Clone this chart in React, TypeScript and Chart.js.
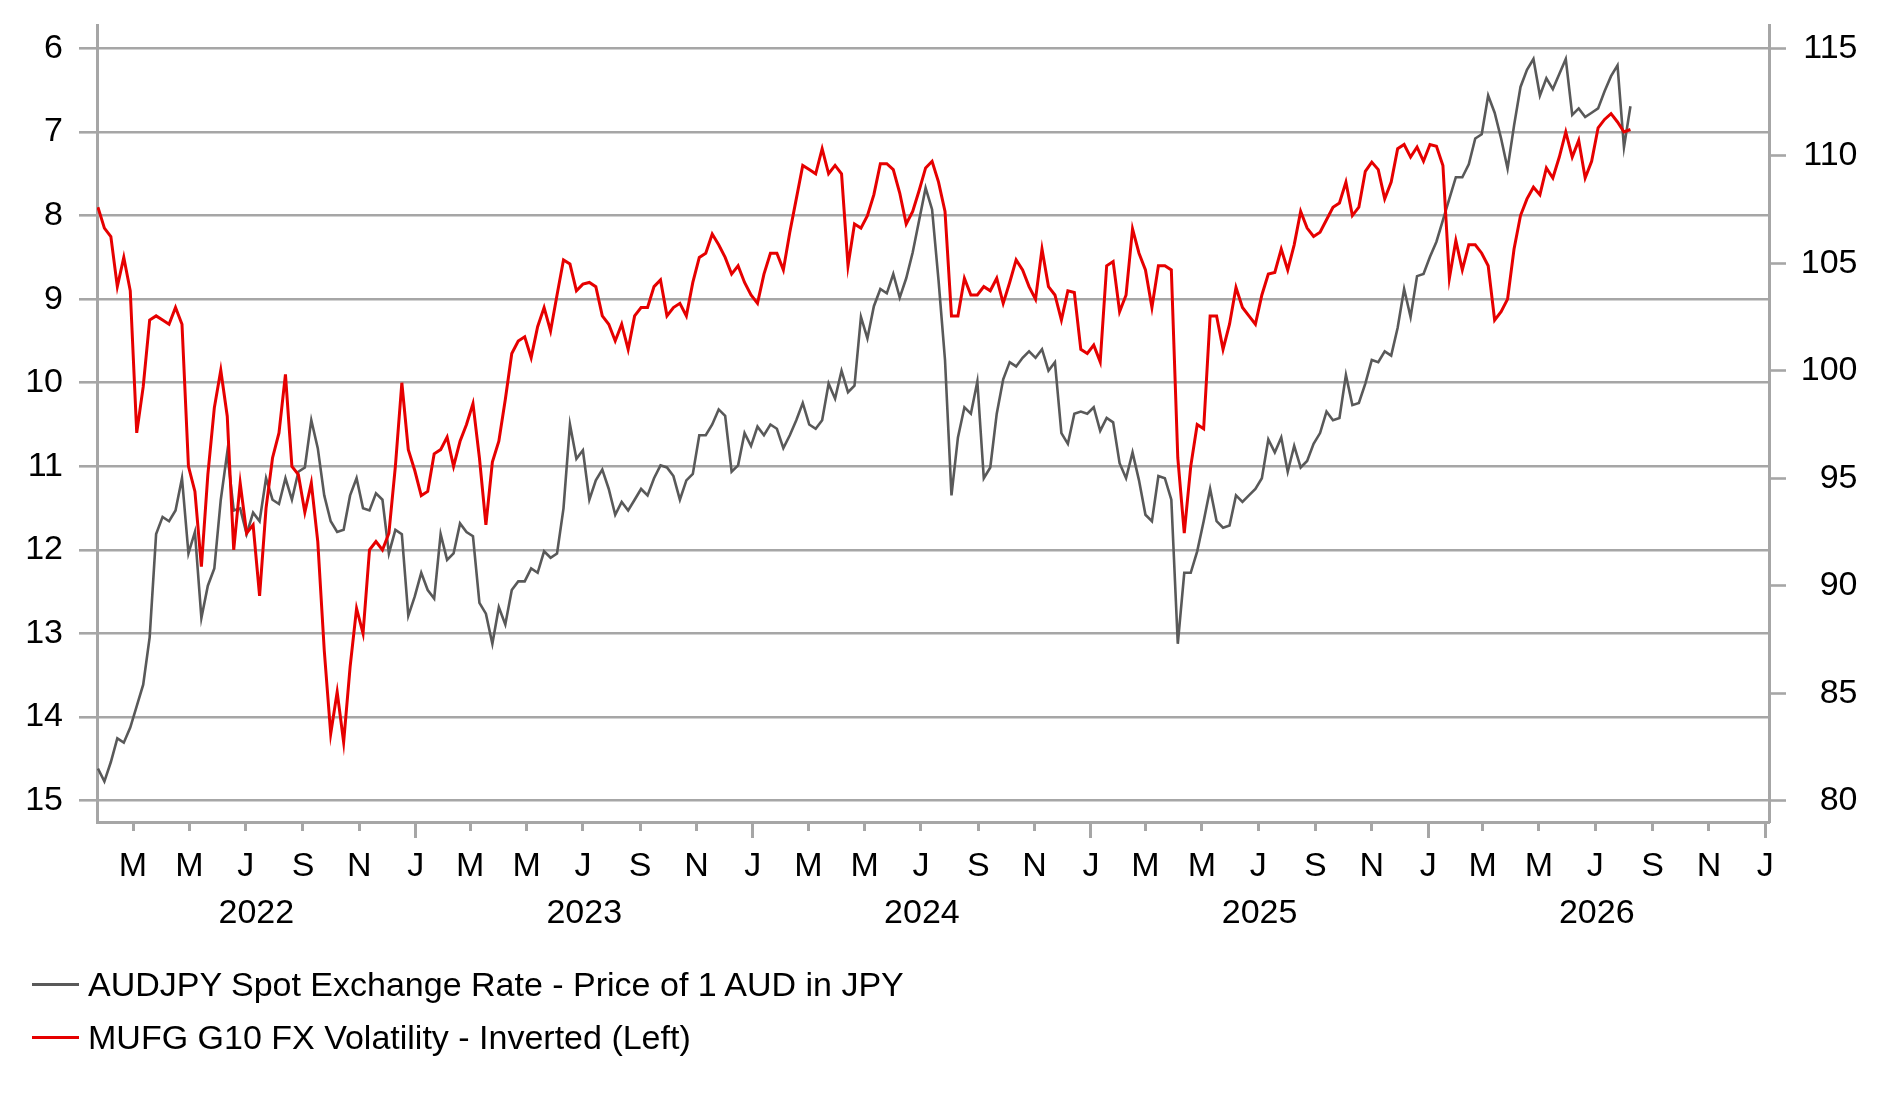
import React, { useEffect, useRef } from 'react';
import { Chart, registerables } from 'chart.js';

Chart.register(...registerables);

// ---------- data (weekly samples) ----------
const START_DATE = '2022-01-22';
const STEP_DAYS = 7;

// AUDJPY spot (right axis)
const AUDJPY: number[] = [
  81.5, 80.9, 81.8, 82.9, 82.7, 83.4, 84.4, 85.4, 87.6, 92.4,
  93.2, 93.0, 93.5, 95.0, 91.5, 92.5, 88.5, 90.0, 90.8, 94.0,
  96.2, 93.5, 93.6, 92.4, 93.4, 93.0, 95.0, 94.0, 93.8, 95.0,
  94.0, 95.3, 95.5, 97.7, 96.4, 94.2, 93.0, 92.5, 92.6, 94.2,
  95.0, 93.6, 93.5, 94.3, 94.0, 91.5, 92.6, 92.4, 88.6, 89.5,
  90.6, 89.8, 89.4, 92.4, 91.2, 91.5, 92.9, 92.5, 92.3, 89.2,
  88.7, 87.3, 89.0, 88.2, 89.8, 90.2, 90.2, 90.8, 90.6, 91.6,
  91.3, 91.5, 93.6, 97.5, 95.9, 96.3, 94.0, 94.9, 95.4, 94.5,
  93.3, 93.9, 93.5, 94.0, 94.5, 94.2, 95.0, 95.6, 95.5, 95.1,
  94.0, 94.9, 95.2, 97.0, 97.0, 97.5, 98.2, 97.9, 95.3, 95.6,
  97.1, 96.5, 97.4, 97.0, 97.5, 97.3, 96.4, 97.0, 97.7, 98.5,
  97.5, 97.3, 97.7, 99.4, 98.7, 100.0, 99.0, 99.3, 102.5, 101.5,
  103.0, 103.8, 103.6, 104.5, 103.4, 104.3, 105.5, 107.0, 108.5, 107.5,
  104.2, 100.5, 94.2, 96.9, 98.3, 98.0, 99.5, 95.0, 95.5, 98.0,
  99.6, 100.4, 100.2, 100.6, 100.9, 100.6, 101.0, 100.0, 100.4, 97.1,
  96.6, 98.0, 98.1, 98.0, 98.3, 97.2, 97.8, 97.6, 95.7, 95.0,
  96.2, 94.9, 93.3, 93.0, 95.1, 95.0, 94.0, 87.3, 90.6, 90.6,
  91.6, 93.0, 94.5, 93.0, 92.7, 92.8, 94.2, 93.9, 94.2, 94.5,
  95.0, 96.8, 96.2, 96.9, 95.3, 96.5, 95.5, 95.8, 96.6, 97.1,
  98.1, 97.7, 97.8, 99.8, 98.4, 98.5, 99.4, 100.5, 100.4, 100.9,
  100.7, 102.0, 103.8, 102.5, 104.4, 104.5, 105.3, 106.0, 107.0, 108.0,
  109.0, 109.0, 109.6, 110.8, 111.0, 112.8, 112.0, 110.8, 109.4, 111.4,
  113.2, 114.0, 114.5, 112.8, 113.6, 113.1, 113.8, 114.5, 111.9, 112.2,
  111.8, 112.0, 112.2, 113.0, 113.7, 114.2, 110.4, 112.3,
];

// MUFG G10 FX volatility (left axis, inverted)
const G10_VOL: number[] = [
  7.9, 8.15, 8.25, 8.85, 8.5, 8.9, 10.6, 10.05, 9.25, 9.2,
  9.25, 9.3, 9.1, 9.3, 11.0, 11.3, 12.2, 11.1, 10.3, 9.85,
  10.4, 12.0, 11.2, 11.8, 11.7, 12.55, 11.5, 10.9, 10.6, 9.9,
  11.0, 11.1, 11.55, 11.2, 11.9, 13.2, 14.2, 13.7, 14.3, 13.4,
  12.7, 13.0, 12.0, 11.9, 12.0, 11.8, 11.0, 10.0, 10.8, 11.05,
  11.35, 11.3, 10.85, 10.8, 10.65, 11.0, 10.7, 10.5, 10.25, 10.9,
  11.7, 10.95, 10.7, 10.2, 9.65, 9.5, 9.45, 9.7, 9.33, 9.1,
  9.38, 8.95, 8.53, 8.58, 8.9, 8.82, 8.8, 8.85, 9.2, 9.3,
  9.5, 9.3, 9.6, 9.2, 9.1, 9.1, 8.85, 8.77, 9.2, 9.1,
  9.05, 9.2, 8.8, 8.5, 8.45, 8.22, 8.35, 8.5, 8.7, 8.6,
  8.8, 8.95, 9.05, 8.7, 8.45, 8.45, 8.65, 8.2, 7.8, 7.4,
  7.45, 7.5, 7.2, 7.5, 7.4, 7.5, 8.6, 8.1, 8.15, 8.0,
  7.75, 7.38, 7.38, 7.45, 7.73, 8.1, 7.95, 7.7, 7.43, 7.35,
  7.6, 7.95, 9.2, 9.2, 8.75, 8.95, 8.95, 8.85, 8.9, 8.75,
  9.05, 8.8, 8.53, 8.65, 8.85, 9.0, 8.4, 8.85, 8.95, 9.25,
  8.9, 8.92, 9.6, 9.65, 9.55, 9.75, 8.6, 8.55, 9.15, 8.95,
  8.16, 8.45, 8.65, 9.1, 8.6, 8.6, 8.65, 10.9, 11.8, 11.0,
  10.5, 10.55, 9.2, 9.2, 9.6, 9.3, 8.86, 9.1, 9.2, 9.3,
  8.95, 8.7, 8.68, 8.4, 8.65, 8.35, 7.95, 8.15, 8.25, 8.2,
  8.05, 7.9, 7.85, 7.6, 8.0, 7.9, 7.47, 7.36, 7.45, 7.8,
  7.6, 7.2, 7.15, 7.3, 7.18, 7.35, 7.15, 7.17, 7.4, 8.75,
  8.3, 8.65, 8.35, 8.35, 8.45, 8.6, 9.25, 9.15, 9.0, 8.4,
  8.0, 7.8, 7.66, 7.75, 7.43, 7.55, 7.3, 7.0, 7.3, 7.1,
  7.55, 7.35, 6.95, 6.85, 6.78, 6.88, 7.0, 6.97,
];

const LEFT_TICKS = [6, 7, 8, 9, 10, 11, 12, 13, 14, 15];
const RIGHT_TICKS = [80, 85, 90, 95, 100, 105, 110, 115];
const MONTH_LETTERS = ['J', 'F', 'M', 'A', 'M', 'J', 'J', 'A', 'S', 'O', 'N', 'D'];
const YEARS = [2022, 2023, 2024, 2025, 2026];
const AXIS_START = '2022-01-21';
const AXIS_END = '2027-01-05';
const FIRST_MONTH_TICK = '2022-03-01';
const LAST_MONTH_TICK = '2027-01-01';
const MONTH_TICK_STEP = 2;

const SERIES_NAMES = [
  'AUDJPY Spot Exchange Rate - Price of 1 AUD in JPY',
  'MUFG G10 FX Volatility - Inverted (Left)',
];
const GRAY = '#595959';
const RED = '#e60000';
const GRID_COLOR = '#a6a6a6';
const FONT_FAMILY = '"Liberation Sans", Arial, Helvetica, sans-serif';
const FONT_SIZE = 34;

function dayNum(iso: string): number {
  const [y, m, d] = iso.split('-').map(Number);
  return Date.UTC(y, m - 1, d) / 86400000;
}

export default function App() {
  const canvasRef = useRef<HTMLCanvasElement | null>(null);

  useEffect(() => {
    if (!canvasRef.current) return;
    const start = dayNum(START_DATE);
    const xMin = dayNum(AXIS_START);
    const xMax = dayNum(AXIS_END);

    // month ticks every 2 months
    const monthTicks: number[] = [];
    const monthOf: Record<number, number> = {};
    const [fy, fm] = FIRST_MONTH_TICK.split('-').map(Number);
    let y = fy;
    let m = fm - 1;
    const last = dayNum(LAST_MONTH_TICK);
    while (true) {
      const v = Date.UTC(y, m, 1) / 86400000;
      if (v > last) break;
      monthTicks.push(v);
      monthOf[v] = m;
      m += MONTH_TICK_STEP;
      if (m > 11) {
        m -= 12;
        y += 1;
      }
    }

    const yearMids = YEARS.map((yr) => {
      const a = Math.max(dayNum(`${yr}-01-01`), xMin);
      const b = Math.min(dayNum(`${yr + 1}-01-01`), xMax);
      return (a + b) / 2;
    });

    const audPoints = AUDJPY.map((v, i) => ({ x: start + i * STEP_DAYS, y: v }));
    const volPoints = G10_VOL.map((v, i) => ({ x: start + i * STEP_DAYS, y: v }));

    Chart.defaults.font.family = FONT_FAMILY;
    Chart.defaults.font.size = FONT_SIZE;
    Chart.defaults.color = '#000000';

    const chart = new Chart(canvasRef.current, {
      type: 'line',
      data: {
        datasets: [
          {
            label: SERIES_NAMES[1],
            data: volPoints,
            borderColor: RED,
            backgroundColor: RED,
            borderWidth: 3,
            pointRadius: 0,
            tension: 0,
            yAxisID: 'y',
            xAxisID: 'x',
            order: 0,
          },
          {
            label: SERIES_NAMES[0],
            data: audPoints,
            borderColor: GRAY,
            backgroundColor: GRAY,
            borderWidth: 2.6,
            pointRadius: 0,
            tension: 0,
            yAxisID: 'y1',
            xAxisID: 'x',
            order: 1,
          },
        ],
      },
      options: {
        animation: false,
        responsive: true,
        maintainAspectRatio: false,
        events: [],
        layout: { padding: { left: 0, right: 25.5, top: 25, bottom: 160 } },
        plugins: {
          legend: { display: false },
          tooltip: { enabled: false },
        },
        scales: {
          x: {
            type: 'linear',
            position: 'bottom',
            weight: 0,
            min: xMin,
            max: xMax,
            afterBuildTicks: (scale: any) => {
              scale.ticks = monthTicks.map((v) => ({ value: v }));
            },
            afterFit: (scale: any) => {
              scale.height = 59;
              scale.paddingLeft = 0;
              scale.paddingRight = 0;
            },
            ticks: {
              autoSkip: false,
              maxRotation: 0,
              minRotation: 0,
              padding: 8,
              callback: (value: any) => MONTH_LETTERS[monthOf[value as number] ?? 0],
            },
            grid: {
              display: true,
              drawOnChartArea: false,
              drawTicks: true,
              tickLength: 16,
              tickWidth: 3,
              tickColor: GRID_COLOR,
              color: GRID_COLOR,
              tickBorderDash: (ctx: any) =>
                ctx.tick && monthOf[ctx.tick.value] === 0 ? [] : [7, 200],
            } as any,
            border: { display: true, color: GRID_COLOR, width: 3 },
          },
          x2: {
            type: 'linear',
            position: 'bottom',
            weight: 1,
            min: xMin,
            max: xMax,
            afterBuildTicks: (scale: any) => {
              scale.ticks = yearMids.map((v) => ({ value: v }));
            },
            afterFit: (scale: any) => {
              scale.height = 60;
              scale.paddingLeft = 0;
              scale.paddingRight = 0;
            },
            ticks: {
              autoSkip: false,
              maxRotation: 0,
              minRotation: 0,
              padding: 4,
              callback: (_v: any, index: number) => String(YEARS[index]),
            },
            grid: { display: false },
            border: { display: false },
          },
          y: {
            type: 'linear',
            position: 'left',
            reverse: true,
            min: 5.72,
            max: 15.255,
            afterBuildTicks: (scale: any) => {
              scale.ticks = LEFT_TICKS.map((v) => ({ value: v }));
            },
            afterFit: (scale: any) => {
              scale.width = 97;
              scale.paddingTop = 0;
              scale.paddingBottom = 0;
            },
            ticks: {
              padding: 16,
              callback: (v: any) => String(v),
            },
            grid: {
              color: GRID_COLOR,
              lineWidth: 2.6,
              tickLength: 18,
              tickColor: GRID_COLOR,
              tickWidth: 2.6,
            },
            border: { display: true, color: GRID_COLOR, width: 3 },
          },
          y1: {
            type: 'linear',
            position: 'right',
            min: 79.01,
            max: 116.08,
            afterBuildTicks: (scale: any) => {
              scale.ticks = RIGHT_TICKS.map((v) => ({ value: v }));
            },
            afterFit: (scale: any) => {
              scale.width = 88.5;
              scale.paddingTop = 0;
              scale.paddingBottom = 0;
            },
            ticks: {
              padding: 12,
              crossAlign: 'far',
              callback: (v: any) => String(v),
            },
            grid: {
              drawOnChartArea: false,
              color: GRID_COLOR,
              tickLength: 17,
              tickColor: GRID_COLOR,
              tickWidth: 2.6,
            },
            border: { display: true, color: GRID_COLOR, width: 3 },
          },
        },
      },
    } as any);

    return () => {
      chart.destroy();
    };
  }, []);

  const legendRow = (color: string, text: string, top: number) => (
    <div
      style={{
        position: 'absolute',
        left: 32,
        top,
        height: 40,
        display: 'flex',
        alignItems: 'center',
        whiteSpace: 'nowrap',
      }}
    >
      <div style={{ width: 47, height: 3, background: color }} />
      <span
        style={{
          marginLeft: 9,
          fontFamily: FONT_FAMILY,
          fontSize: FONT_SIZE,
          lineHeight: '40px',
          color: '#000',
        }}
      >
        {text}
      </span>
    </div>
  );

  return (
    <div
      style={{
        position: 'absolute',
        left: 0,
        top: 0,
        width: 1883,
        height: 1101,
        background: '#ffffff',
        overflow: 'hidden',
      }}
    >
      <div style={{ position: 'absolute', left: 0, top: 0, width: 1883, height: 1101 }}>
        <canvas ref={canvasRef} />
      </div>
      {legendRow(GRAY, SERIES_NAMES[0], 964)}
      {legendRow(RED, SERIES_NAMES[1], 1017)}
    </div>
  );
}
